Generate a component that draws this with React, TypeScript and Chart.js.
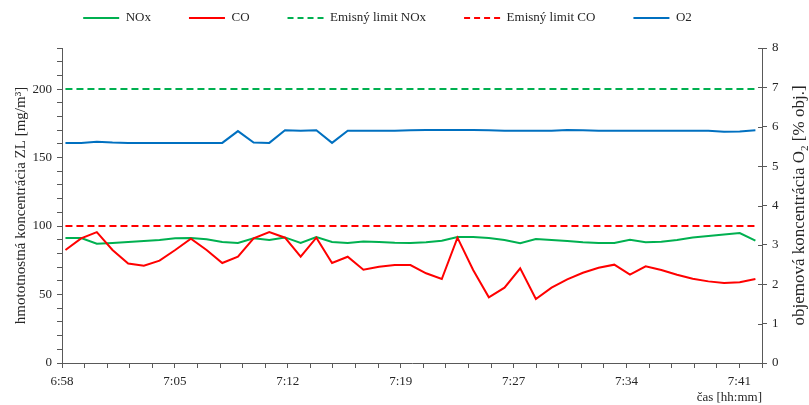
import React, { useEffect, useRef } from 'react';
import { Chart, registerables } from 'chart.js';

Chart.register(...registerables);

// ---- data ----
const timeLabels = ['6:58', '7:05', '7:12', '7:19', '7:27', '7:34', '7:41'];
const minutesPerTick = 1.44; // x-axis minor tick interval (minutes)
const firstSampleMinute = 0.22; // first sample, minutes after 6:58
const sampleIntervalMinutes = 1;

const noxValues = [
  91.2, 91.2, 87.1, 87.6, 88.3, 89.0, 89.8, 91.0, 91.2, 90.3,
  88.3, 87.6, 91.0, 89.8, 91.7, 87.6, 92.0, 88.3, 87.6, 88.8,
  88.3, 87.8, 87.6, 88.1, 89.3, 92.0, 92.0, 91.2, 89.8, 87.4,
  90.5, 89.8, 89.0, 88.1, 87.6, 87.6, 90.0, 88.1, 88.6, 89.8,
  91.7, 92.7, 93.9, 94.9, 89.3,
];
const coValues = [
  82.5, 91.0, 95.6, 82.5, 72.7, 71.0, 74.7, 82.5, 90.8, 82.5,
  73.0, 77.6, 91.0, 95.6, 91.5, 77.6, 91.5, 73.0, 77.6, 68.1,
  70.3, 71.5, 71.5, 65.5, 61.3, 91.5, 67.9, 48.0, 55.0, 69.1,
  46.7, 55.0, 61.1, 65.9, 69.6, 71.8, 64.5, 70.6, 67.9, 64.5,
  61.5, 59.6, 58.4, 58.9, 61.3,
];
const o2Values = [
  5.59, 5.59, 5.62, 5.60, 5.59, 5.59, 5.59, 5.59, 5.59, 5.59,
  5.59, 5.89, 5.60, 5.59, 5.91, 5.90, 5.91, 5.59, 5.90, 5.90,
  5.90, 5.90, 5.91, 5.92, 5.92, 5.92, 5.92, 5.91, 5.90, 5.90,
  5.90, 5.90, 5.92, 5.91, 5.90, 5.90, 5.90, 5.90, 5.90, 5.90,
  5.90, 5.90, 5.87, 5.88, 5.91,
];
const noxLimit = 200;
const coLimit = 100;

const leftAxisMax = 230;
const leftAxisStep = 10;
const leftLabelEvery = 50;
const rightAxisMax = 8;
const xAxisTickCount = 31; // number of minor intervals on x axis
const labelEveryTicks = 5;

// ---- styles ----
const FONT = "'Liberation Serif', 'Times New Roman', serif";
const TEXT = '#262626';
const AXIS = '#595959';
const GREEN = '#00B050';
const RED = '#FF0000';
const BLUE = '#0070C0';

const sampleX = (i: number) => (firstSampleMinute + i * sampleIntervalMinutes) / minutesPerTick;
const toPoints = (vals: number[]) => vals.map((v, i) => ({ x: sampleX(i), y: v }));
const constPoints = (v: number, n: number) => Array.from({ length: n }, (_, i) => ({ x: sampleX(i), y: v }));

const legendPlugin = {
  id: 'customLegend',
  afterDraw(chart: any) {
    const ctx = chart.ctx;
    ctx.save();
    ctx.font = `13px ${FONT}`;
    const sample = 36;
    const gap = 6.5;
    const spacing = 38;
    const items = chart.data.datasets.map((ds: any) => ({
      text: ds.label,
      color: ds.borderColor,
      dash: ds.borderDash || [],
      w: ctx.measureText(ds.label).width,
    }));
    const total = items.reduce((s: number, it: any) => s + sample + gap + it.w, 0) + spacing * (items.length - 1);
    let x = chart.width / 2 - total / 2 - 17;
    const y = 18;
    items.forEach((it: any) => {
      ctx.strokeStyle = it.color;
      ctx.lineWidth = 2;
      ctx.setLineDash(it.dash.length ? [6, 4] : []);
      ctx.beginPath();
      ctx.moveTo(x, y);
      ctx.lineTo(x + sample, y);
      ctx.stroke();
      ctx.setLineDash([]);
      ctx.fillStyle = TEXT;
      ctx.textBaseline = 'middle';
      ctx.textAlign = 'left';
      ctx.fillText(it.text, x + sample + gap, y);
      x += sample + gap + it.w + spacing;
    });
    ctx.restore();
  },
};

const rightAxisPlugin = {
  id: 'rightAxisExtras',
  afterDraw(chart: any) {
    const ctx = chart.ctx;
    const s = chart.scales.y2;
    const area = chart.chartArea;
    ctx.save();
    // inner half of the crossing tick marks
    ctx.strokeStyle = AXIS;
    ctx.lineWidth = 1;
    s.ticks.forEach((t: any) => {
      const py = Math.round(s.getPixelForValue(t.value)) + 0.5;
      ctx.beginPath();
      ctx.moveTo(s.left - 4, py);
      ctx.lineTo(s.left, py);
      ctx.stroke();
    });
    // axis title reading bottom-to-top
    ctx.translate(s.right - 9, (area.top + area.bottom) / 2);
    ctx.rotate(-Math.PI / 2);
    ctx.fillStyle = TEXT;
    ctx.textBaseline = 'middle';
    ctx.textAlign = 'left';
    const big = `17px ${FONT}`;
    const small = `11px ${FONT}`;
    const p1 = 'objemová koncentrácia O';
    const p2 = '2';
    const p3 = ' [% obj.]';
    ctx.font = big;
    const w1 = ctx.measureText(p1).width;
    const w3 = ctx.measureText(p3).width;
    ctx.font = small;
    const w2 = ctx.measureText(p2).width;
    let x = -(w1 + w2 + w3) / 2;
    ctx.font = big;
    ctx.fillText(p1, x, 0);
    x += w1;
    ctx.font = small;
    ctx.fillText(p2, x, 5);
    x += w2;
    ctx.font = big;
    ctx.fillText(p3, x, 0);
    ctx.restore();
  },
};

export default function App() {
  const ref = useRef<HTMLCanvasElement | null>(null);

  useEffect(() => {
    document.body.style.margin = '0';
    if (!ref.current) return;
    const n = noxValues.length;
    const tickFont = { family: FONT, size: 13 };
    const chart = new Chart(ref.current, {
      type: 'line',
      data: {
        datasets: [
          { label: 'NOx', data: toPoints(noxValues), borderColor: GREEN, backgroundColor: GREEN, borderWidth: 2, pointRadius: 0, yAxisID: 'y', order: 2 },
          { label: 'CO', data: toPoints(coValues), borderColor: RED, backgroundColor: RED, borderWidth: 2, pointRadius: 0, yAxisID: 'y', order: 1 },
          { label: 'Emisný limit NOx', data: constPoints(noxLimit, n), borderColor: GREEN, backgroundColor: GREEN, borderWidth: 2, borderDash: [7, 4], pointRadius: 0, yAxisID: 'y', order: 3 },
          { label: 'Emisný limit CO', data: constPoints(coLimit, n), borderColor: RED, backgroundColor: RED, borderWidth: 2, borderDash: [7, 4], pointRadius: 0, yAxisID: 'y', order: 4 },
          { label: 'O2', data: toPoints(o2Values), borderColor: BLUE, backgroundColor: BLUE, borderWidth: 2, pointRadius: 0, yAxisID: 'y2', order: 0 },
        ],
      },
      options: {
        animation: false,
        responsive: false,
        layout: { padding: { top: 48, left: 0, right: 0, bottom: 0 } },
        plugins: { legend: { display: false }, tooltip: { enabled: false } },
        elements: { line: { tension: 0 } },
        scales: {
          x: {
            type: 'linear',
            min: 0,
            max: xAxisTickCount,
            ticks: {
              stepSize: 1,
              autoSkip: false,
              maxRotation: 0,
              padding: 6,
              font: tickFont,
              color: TEXT,
              callback: (_v: any, i: number) => (i % labelEveryTicks === 0 ? timeLabels[i / labelEveryTicks] ?? '' : ''),
            },
            grid: { drawOnChartArea: false, tickLength: 5, color: AXIS },
            border: { color: AXIS, width: 1 },
            title: { display: true, text: 'čas [hh:mm]', align: 'end', font: { family: FONT, size: 13 }, color: TEXT, padding: { top: 0, bottom: 0 } },
            afterFit: (s: any) => { s.height = 42; },
          },
          y: {
            position: 'left',
            min: 0,
            max: leftAxisMax,
            ticks: {
              stepSize: leftAxisStep,
              autoSkip: false,
              padding: 5,
              font: tickFont,
              color: TEXT,
              callback: (v: any) => (Math.abs(v % leftLabelEvery) < 1e-6 ? String(v) : ''),
            },
            grid: { drawOnChartArea: false, tickLength: 5, color: AXIS },
            border: { color: AXIS, width: 1 },
            title: { display: true, text: 'hmototnostná koncentrácia ZL [mg/m³]', font: { family: FONT, size: 15 }, color: TEXT, padding: { top: 12, bottom: 0 } },
            afterFit: (s: any) => { s.width = 62; },
          },
          y2: {
            position: 'right',
            min: 0,
            max: rightAxisMax,
            ticks: { stepSize: 1, autoSkip: false, padding: 5, font: tickFont, color: TEXT },
            grid: { drawOnChartArea: false, tickLength: 5, color: AXIS },
            border: { color: AXIS, width: 1 },
            afterFit: (s: any) => { s.width = 47; },
          },
        },
      },
      plugins: [legendPlugin, rightAxisPlugin],
    } as any);
    return () => chart.destroy();
  }, []);

  return (
    <div style={{ width: 809, height: 405 }}>
      <canvas ref={ref} width={809} height={405} style={{ display: 'block' }} />
    </div>
  );
}
